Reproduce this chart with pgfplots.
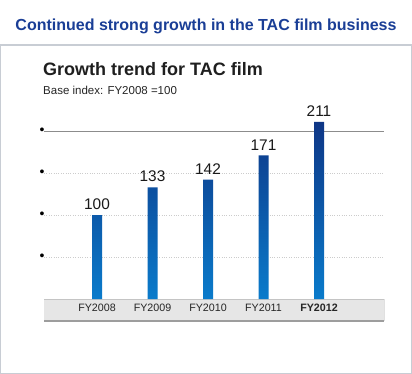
\documentclass[border=0pt]{standalone}
\usepackage{pgfplots}
\pgfplotsset{compat=1.18}
\usepackage{fontspec}
\setmainfont{Liberation Sans}
\definecolor{titleblue}{HTML}{1A3E96}
\definecolor{bartop}{HTML}{0E3686}
\definecolor{barbot}{HTML}{0A7BCB}
\definecolor{frame}{HTML}{C8CDD4}
\definecolor{band}{HTML}{E6E6E6}
\definecolor{bandline}{HTML}{C4C4C4}
\begin{document}
\begin{tikzpicture}
\useasboundingbox (0pt,0pt) rectangle (412pt,-374pt);
\fill[white] (0pt,0pt) rectangle (412pt,-374pt);
\draw[frame, line width=1.2pt] (0.6pt,-45pt) rectangle (411.2pt,-373.2pt);
\node[anchor=base, font=\fontsize{16}{19}\selectfont\bfseries, text=titleblue, inner sep=0] at (206pt,-30.7pt) {Continued strong growth in the TAC film business};
\node[anchor=base west, font=\fontsize{18}{21}\selectfont\bfseries, text=black!88, inner sep=0] at (43pt,-75.7pt) {Growth trend for TAC film};
\node[anchor=base west, font=\fontsize{11.5}{14}\selectfont, text=black!85, inner sep=0] at (43pt,-94.3pt) {Base index: FY2008 =100};
\fill[band] (44pt,-298.5pt) rectangle (384pt,-321.5pt);
\draw[bandline, line width=1pt] (44pt,-299pt) -- (384pt,-299pt);
\draw[bandline!80!black, line width=1.2pt] (44pt,-321pt) -- (384pt,-321pt);
\draw[white!88!black, line width=0.8pt] (384pt,-299pt) -- (384pt,-321pt);
\begin{axis}[
  at={(44pt,-299pt)}, anchor=south west,
  scale only axis, width=340pt, height=193.2pt,
  xmin=-0.955, xmax=5.171, ymin=0, ymax=230,
  axis line style={draw=none},
  major tick length=0pt,
  xtick={0,1,2,3,4},
  xticklabels={FY2008,FY2009,FY2010,FY2011,\textbf{FY2012}},
  xticklabel style={font=\fontsize{10.7}{12}\selectfont, text=black!85, yshift=-1.5pt},
  ytick={50,100,150},
  yticklabel={\textbullet},
  yticklabel style={anchor=center, xshift=-2pt, inner sep=0pt, font=\fontsize{14}{14}\selectfont},
  ymajorgrids,
  major grid style={black!20, dotted, line width=0.6pt},
  extra y ticks={200},
  extra y tick labels={\textbullet},
  extra y tick style={grid=major, major grid style={black!45, solid, line width=0.7pt}},
  /pgf/number format/assume math mode=true,
  clip=false,
]
\addplot[ybar, bar width=10pt, draw=none, top color=bartop, bottom color=barbot,
  nodes near coords, every node near coord/.append style={font=\fontsize{15.4}{18}\selectfont, text=black!90, inner sep=0pt, yshift=5pt}]
  coordinates {(0,100) (1,133) (2,142) (3,171) (4,211)};
\end{axis}
\end{tikzpicture}
\end{document}
